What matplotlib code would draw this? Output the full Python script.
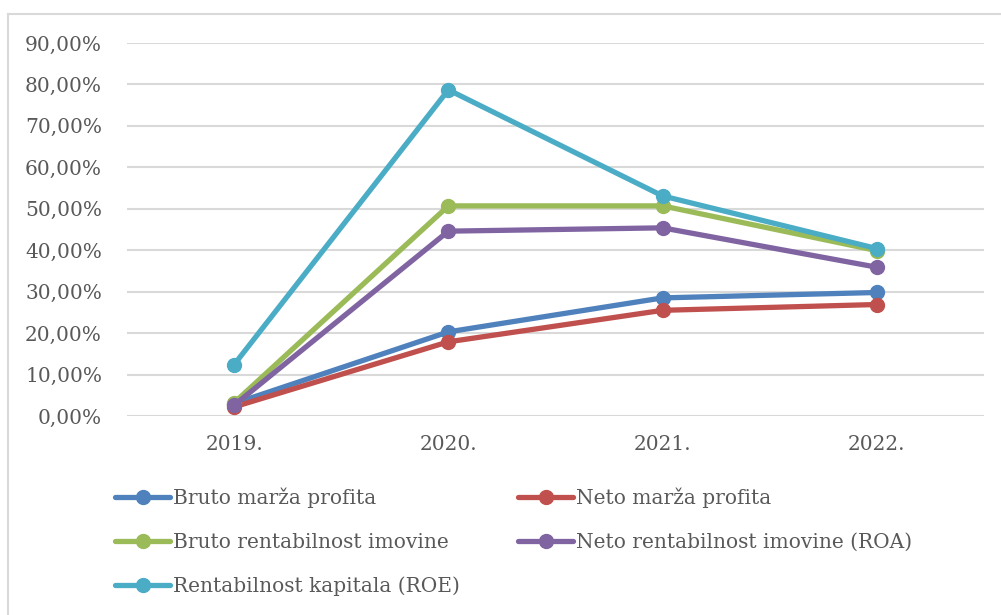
import matplotlib
matplotlib.use("Agg")
import matplotlib.pyplot as plt
from matplotlib.lines import Line2D
from matplotlib.ticker import FuncFormatter

years = ["2019.", "2020.", "2021.", "2022."]
bruto_marza = [0.030, 0.203, 0.285, 0.298]
neto_marza = [0.022, 0.179, 0.255, 0.269]
bruto_rent = [0.032, 0.507, 0.507, 0.399]
roa = [0.026, 0.446, 0.454, 0.359]
roe = [0.124, 0.787, 0.531, 0.404]

names = ["Bruto marža profita", "Neto marža profita", "Bruto rentabilnost imovine",
         "Neto rentabilnost imovine (ROA)", "Rentabilnost kapitala (ROE)"]
series = [bruto_marza, neto_marza, bruto_rent, roa, roe]
colors = ["#4F81BD", "#C0504D", "#9BBB59", "#8064A2", "#4BACC6"]

plt.rcParams['font.family'] = ['DejaVu Serif']
W, H = 1001, 615
fig = plt.figure(figsize=(W / 100, H / 100), dpi=100)
ax = fig.add_axes([127 / W, 1 - 416 / H, (984 - 127) / W, (416 - 43) / H])

x = list(range(len(years)))
handles = []
for vals, c, n in zip(series, colors, names):
    h, = ax.plot(x, vals, color=c, lw=3.8, marker='o', markersize=10,
                 solid_capstyle='round', label=n, zorder=3)
    handles.append(h)

ax.set_xlim(-0.5, 3.5)
ax.set_ylim(0, 0.9)
ax.set_yticks([i / 10 for i in range(10)])
ax.yaxis.set_major_formatter(FuncFormatter(lambda v, p: f"{v*100:.2f}%".replace('.', ',')))
ax.set_xticks(x)
ax.set_xticklabels(years)
ax.grid(axis='y', color='#D9D9D9', lw=1.5, zorder=0)
for s in ax.spines.values():
    s.set_visible(False)
ax.tick_params(length=0, labelsize=14.5, colors='#595959')
ax.tick_params(axis='y', pad=18)
ax.tick_params(axis='x', pad=14)

# frame
fig.add_artist(Line2D([8 / W, 8 / W], [0, 1 - 14 / H], color='#D9D9D9', lw=1.5))
fig.add_artist(Line2D([8 / W, 1], [1 - 14 / H, 1 - 14 / H], color='#D9D9D9', lw=1.5))

leg_kw = dict(frameon=False, fontsize=14.5, handlelength=2.75, handletextpad=0.15,
              labelspacing=1.22, borderpad=0, borderaxespad=0, labelcolor='#595959')
col1 = [handles[0], handles[2], handles[4]]
col2 = [handles[1], handles[3]]
fig.legend(col1, [h.get_label() for h in col1], loc='upper left',
           bbox_to_anchor=(115 / W, 1 - 488 / H), **leg_kw)
fig.legend(col2, [h.get_label() for h in col2], loc='upper left',
           bbox_to_anchor=(518 / W, 1 - 488 / H), **leg_kw)

fig.savefig("out.png", dpi=100)
